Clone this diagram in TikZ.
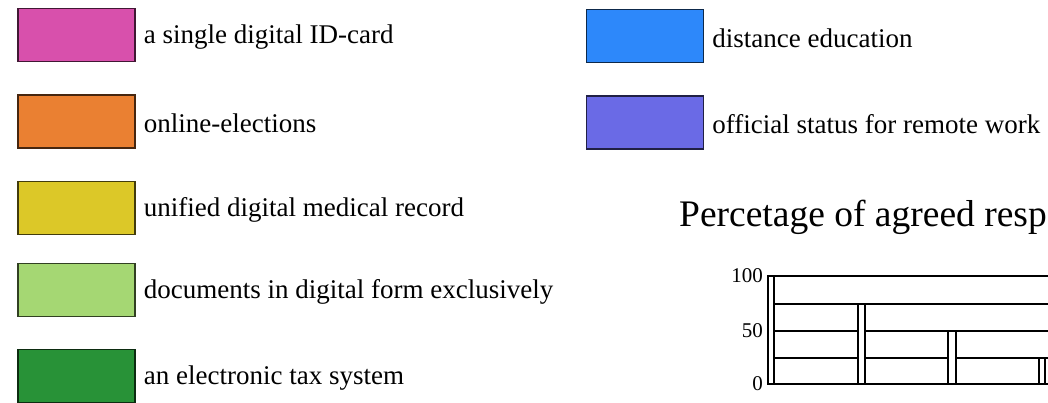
\documentclass[tikz,border=0pt]{standalone}
\usepackage{fontspec}
\setmainfont{Liberation Serif}
\usetikzlibrary{positioning}
\definecolor{idpink}{RGB}{216,80,172}
\definecolor{voteorange}{RGB}{234,128,50}
\definecolor{medyellow}{RGB}{220,200,40}
\definecolor{docgreen}{RGB}{165,215,115}
\definecolor{taxgreen}{RGB}{40,146,55}
\definecolor{edublue}{RGB}{45,136,250}
\definecolor{workviolet}{RGB}{106,106,230}
\tikzset{% 
  keybox/.style = {
    shape=rectangle, draw=#1!30!black, fill=#1, line width=1.3pt,
    minimum width=117pt, minimum height=53pt, inner sep=0pt
  },
  keytext/.style = {
    inner sep=0pt, yshift=-2pt, font=\fontsize{27}{32}\selectfont
  },
  gridline/.style = {draw, line width=1.2pt},
  barbox/.style = {draw, fill=white, line width=1.2pt},
  ticklabel/.style = {anchor=east, inner sep=0pt, font=\fontsize{21}{25}\selectfont}
}

\begin{document}
\begin{tikzpicture}[x=1pt,y=-1pt,node distance=8pt]
	\useasboundingbox (0,0) rectangle (1048,402);
	% left column of the key
	\node[keybox=idpink] (idcard) at (76.5,35) {};
	\node[keytext,right=of idcard] (idcardtext) {a single digital ID-card};
	\node[keybox=voteorange] (elect) at (76.5,121.5) {};
	\node[keytext,right=of elect] (electtext) {online-elections};
	\node[keybox=medyellow] (medrec) at (76.5,208) {};
	\node[keytext,right=of medrec] (medrectext) {unified digital medical record};
	\node[keybox=docgreen] (docs) at (76.5,290) {};
	\node[keytext,right=of docs] (docstext) {documents in digital form exclusively};
	\node[keybox=taxgreen] (tax) at (76.5,376) {};
	\node[keytext,right=of tax] (taxtext) {an electronic tax system};
	% right column of the key
	\node[keybox=edublue] (edu) at (645,36) {};
	\node[keytext,right=of edu] (edutext) {distance education};
	\node[keybox=workviolet] (remote) at (645,122.5) {};
	\node[keytext,right=of remote] (remotetext) {official status for remote work};
	% chart
	\node[anchor=base west,inner sep=0pt,font=\fontsize{37.5}{43}\selectfont] (title) at (679,226) {Percetage of agreed resp};
	\coordinate (origin) at (768,384);
	\path[gridline] (origin) -- (1048,384);
	\path[gridline] (768,358) -- (1048,358);
	\path[gridline] (768,331) -- (1048,331);
	\path[gridline] (768,304) -- (1048,304);
	\path[gridline] (768,276) -- (1048,276);
	\path[barbox] (origin) rectangle (774,276);
	\path[barbox] (858,384) rectangle (865,304);
	\path[barbox] (948,384) rectangle (956,331);
	\path[barbox] (1039,384) rectangle (1045,358);
	\node[ticklabel] (lab100) at (763,276) {100};
	\node[ticklabel] (lab50) at (763,331) {50};
	\node[ticklabel] (lab0) at (763,384) {0};
\end{tikzpicture}
\end{document}
